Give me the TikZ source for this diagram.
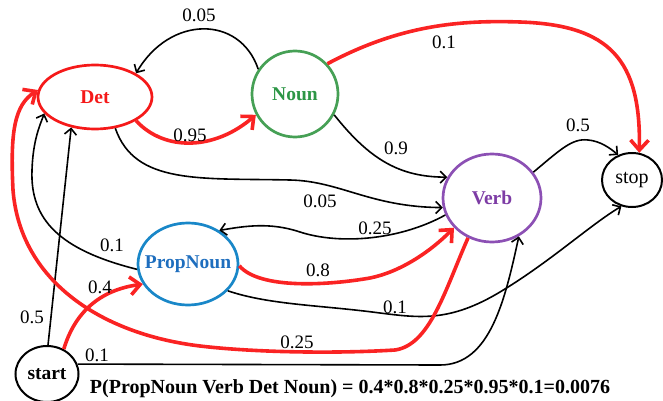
\documentclass[tikz,border=0pt]{standalone}
\usepackage{fontspec}
\setmainfont{Liberation Serif}
\usetikzlibrary{arrows.meta,shapes.geometric}

\definecolor{detred}{RGB}{245,25,25}
\definecolor{pathred}{RGB}{250,35,35}
\definecolor{noungreen}{RGB}{70,160,85}
\definecolor{nountext}{RGB}{45,150,70}
\definecolor{verbpurple}{RGB}{140,80,180}
\definecolor{verbtext}{RGB}{125,60,165}
\definecolor{propblue}{RGB}{25,135,200}
\definecolor{proptext}{RGB}{30,110,190}

\begin{document}
\begin{tikzpicture}[x=1pt,y=-1pt,
  state/.style={draw, ellipse, line width=2.7pt, inner sep=0pt, font=\fontsize{19.5}{22}\selectfont\bfseries},
  prob/.style={inner sep=1pt, font=\fontsize{19}{22}\selectfont},
  trans/.style={line width=1.6pt, -{Straight Barb[length=6pt,width=12pt]}},
  best/.style={line width=3.6pt, draw=pathred, -{Straight Barb[length=10pt,width=18pt]}}]
  \useasboundingbox (0,0) rectangle (663,401);

  % States
  \node[state, draw=detred, text=detred, minimum width=114pt, minimum height=64pt] (det) at (95,97) {Det};
  \node[state, draw=noungreen, text=nountext, minimum width=86pt, minimum height=86pt] (noun) at (295,94) {Noun};
  \node[state, draw=verbpurple, text=verbtext, minimum width=98pt, minimum height=88pt] (verb) at (492,198) {Verb};
  \node[state, draw=propblue, text=proptext, minimum width=100pt, minimum height=82pt, inner xsep=-9pt] (prop) at (188,264) {PropNoun};
  \node[state, line width=2pt, font=\fontsize{20}{22}\selectfont, minimum width=60pt, minimum height=54pt] (stop) at (632,180) {stop};
  \node[state, line width=2pt, minimum width=63pt, minimum height=56pt] (start) at (47,374) {start};

  % Transitions
  \draw[trans] (noun.146) .. controls (240,15) and (170,15) .. (det.30);
  \draw[best] (det.-30) .. controls (165,152) and (215,150) .. (noun.208);
  \draw[best] (noun.43) .. controls (400,25) and (460,20) .. (520,22) .. controls (610,25) and (641,60) .. (stop.75);
  \draw[trans] (noun.-28) .. controls (370,160) and (400,177) .. (verb.155);
  \draw[trans] (det.-57) .. controls (135,185) and (200,178) .. (290,180) .. controls (340,181) and (370,207) .. (verb.191);
  \draw[trans] (verb.32) .. controls (560,150) and (572,138) .. (588,140) .. controls (600,141) and (610,148) .. (stop.119);
  \draw[trans] (verb.200) .. controls (400,240) and (340,245) .. (300,232) .. controls (270,222) and (245,226) .. (prop.47);
  \draw[trans] (prop.186) .. controls (60,250) and (30,220) .. (32,170) .. controls (33,140) and (40,125) .. (det.198);
  \draw[trans] (start.88) -- (det.232);
  \draw[best] (start.56) .. controls (75,312) and (100,290) .. (prop.204);
  \draw[trans] (start.18) -- (440,365) .. controls (490,365) and (505,300) .. (verb.305);
  \draw[best] (prop.-2) .. controls (260,290) and (330,285) .. (370,278) .. controls (400,272) and (430,252) .. (verb.218);
  \draw[trans] (prop.-34) .. controls (270,305) and (320,305) .. (380,313) .. controls (420,318) and (450,322) .. (500,292) .. controls (550,262) and (590,225) .. (stop.248);
  \draw[best] (verb.239) .. controls (445,290) and (430,345) .. (395,350) .. controls (330,354) and (250,352) .. (200,346) .. controls (100,334) and (20,280) .. (13,190) .. controls (10,130) and (15,105) .. (det.173);

  % Probabilities
  \node[prob] (pnd) at (199,15) {0.05};
  \node[prob] (pdn) at (190,135) {0.95};
  \node[prob] (pns) at (444,42) {0.1};
  \node[prob] (pnv) at (396,148) {0.9};
  \node[prob] (pvs) at (578,125) {0.5};
  \node[prob] (pdv) at (320,201) {0.05};
  \node[prob] (pvp) at (375,228) {0.25};
  \node[prob] (ppd) at (112,245) {0.1};
  \node[prob] (ppv) at (318,270) {0.8};
  \node[prob] (psp) at (100,287) {0.4};
  \node[prob] (psd) at (32,317) {0.5};
  \node[prob] (psv) at (97,355) {0.1};
  \node[prob] (pvd) at (297,342) {0.25};
  \node[prob] (pps) at (395,307) {0.1};

  % Sequence probability
  \node[font=\fontsize{20}{22}\selectfont\bfseries] (total) at (350,389) {P(PropNoun Verb Det Noun) = 0.4*0.8*0.25*0.95*0.1=0.0076};
\end{tikzpicture}
\end{document}
